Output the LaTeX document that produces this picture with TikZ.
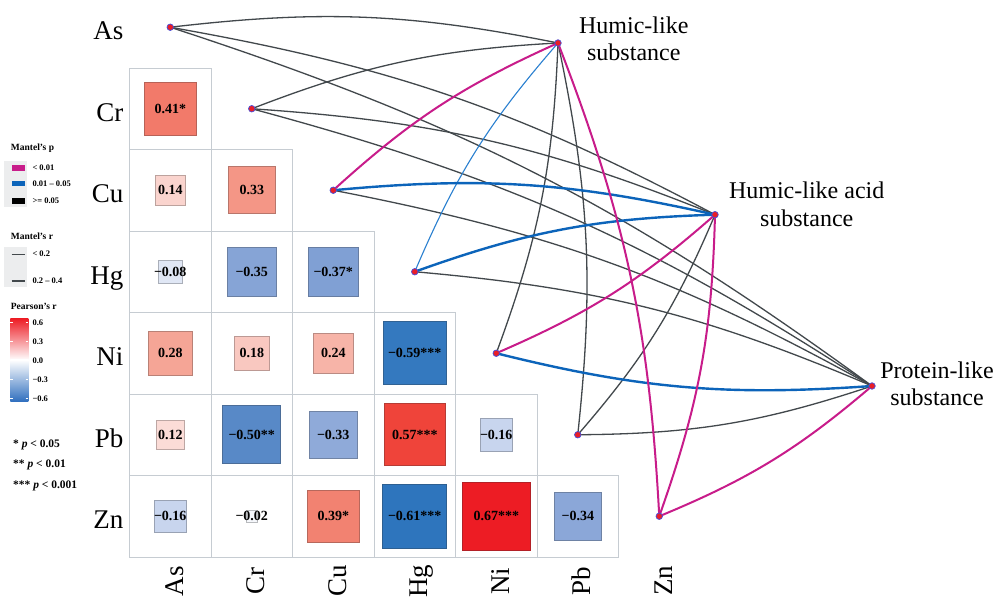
\documentclass[tikz,border=0pt]{standalone}
\usepackage{fontspec}
\setmainfont{Liberation Serif}
\definecolor{gridgray}{RGB}{198,204,210}
\definecolor{edgegray}{RGB}{66,72,76}
\definecolor{mag}{RGB}{200,28,138}
\definecolor{bluek}{RGB}{12,100,186}
\definecolor{bluet}{RGB}{42,128,208}
\definecolor{dotred}{RGB}{232,30,40}
\definecolor{dotblue}{RGB}{70,80,220}
\definecolor{legbg}{RGB}{236,237,238}
\definecolor{rtop}{RGB}{237,28,36}
\definecolor{bbot}{RGB}{46,110,190}
% cell colours
\definecolor{c67}{RGB}{237,28,36}
\definecolor{c57}{RGB}{239,68,58}
\definecolor{c41}{RGB}{242,122,106}
\definecolor{c39}{RGB}{242,130,113}
\definecolor{c33}{RGB}{244,150,134}
\definecolor{c28}{RGB}{245,165,150}
\definecolor{c24}{RGB}{247,180,168}
\definecolor{c18}{RGB}{249,200,192}
\definecolor{c14}{RGB}{250,212,206}
\definecolor{c12}{RGB}{251,220,215}
\definecolor{n61}{RGB}{46,117,189}
\definecolor{n59}{RGB}{52,121,191}
\definecolor{n50}{RGB}{88,137,199}
\definecolor{n37}{RGB}{128,160,212}
\definecolor{n35}{RGB}{134,164,214}
\definecolor{n34}{RGB}{139,167,216}
\definecolor{n33}{RGB}{143,170,217}
\definecolor{n16}{RGB}{200,213,238}
\definecolor{n08}{RGB}{224,231,245}
\definecolor{n02}{RGB}{246,248,252}
\begin{document}
\begin{tikzpicture}[x=1pt,y=1pt,
  dot/.style={circle, fill=dotred, draw=dotblue, line width=0.7pt, inner sep=0pt, minimum size=6.5pt},
  cellbox/.style={draw=gridgray, line width=0.8pt},
  num/.style={font=\fontsize{14}{14}\selectfont\bfseries, inner sep=0pt},
  ax/.style={font=\fontsize{27}{27}\selectfont, inner sep=0pt},
  lab/.style={font=\fontsize{24}{24}\selectfont, inner sep=0pt, anchor=base},
  grayedge/.style={draw=edgegray, line width=1.3pt},
  magedge/.style={draw=mag, line width=2pt},
  blueedge/.style={draw=bluek, line width=2.4pt},
  bluethin/.style={draw=bluet, line width=1.1pt},
  lg/.style={font=\fontsize{8.5}{8.5}\selectfont\bfseries, inner sep=0pt, anchor=west},
  lgt/.style={font=\fontsize{9.5}{9.5}\selectfont\bfseries, inner sep=0pt, anchor=base west},
  sig/.style={font=\fontsize{11.5}{11.5}\selectfont\bfseries, inner sep=0pt, anchor=base west},
]
\fill[white] (0,0) rectangle (1000,599);
\useasboundingbox (0,0) rectangle (1000,599);

% grid cells
\foreach \r in {1,...,6}{
  \pgfmathtruncatemacro\cm{\r-1}
  \foreach \c in {0,...,\cm}{
    \draw[cellbox] ({129.5+81.5*\c},{531-81.5*(\r-1)}) rectangle ++(81.5,-81.5);
  }
}

% correlation squares
\foreach \r/\c/\v/\tx/\cl in {
  1/0/0.41/{0.41*}/c41,
  2/0/0.14/{0.14}/c14, 2/1/0.33/{0.33}/c33,
  3/0/-0.08/{−0.08}/n08, 3/1/-0.35/{−0.35}/n35, 3/2/-0.37/{−0.37*}/n37,
  4/0/0.28/{0.28}/c28, 4/1/0.18/{0.18}/c18, 4/2/0.24/{0.24}/c24, 4/3/-0.59/{−0.59***}/n59,
  5/0/0.12/{0.12}/c12, 5/1/-0.50/{−0.50**}/n50, 5/2/-0.33/{−0.33}/n33, 5/3/0.57/{0.57***}/c57, 5/4/-0.16/{−0.16}/n16,
  6/0/-0.16/{−0.16}/n16, 6/1/-0.02/{−0.02}/n02, 6/2/0.39/{0.39*}/c39, 6/3/-0.61/{−0.61***}/n61, 6/4/0.67/{0.67***}/c67, 6/5/-0.34/{−0.34}/n34}{
  \pgfmathsetmacro\s{82*sqrt(abs(\v))}
  \node[draw=\cl!78!black!90!gray, fill=\cl, line width=0.6pt, minimum size=\s pt, inner sep=0pt] (sq\r\c) at ({170.25+81.5*\c},{571.75-81.5*\r}) {};
  \node[num] (tx\r\c) at (sq\r\c) {\tx};
}

% row labels
\foreach \n/\i in {As/0,Cr/1,Cu/2,Hg/3,Ni/4,Pb/5,Zn/6}{
  \node[ax, anchor=base east] (row\n) at (123.5,{559.25-81.5*\i}) {\n};
  \node[ax, rotate=90, anchor=base] (col\n) at ({183.25+81.5*\i},18) {\n};
}

% point coordinates
\foreach \n/\i in {As/0,Cr/1,Cu/2,Hg/3,Ni/4,Pb/5,Zn/6}{
  \coordinate (p\n) at ({170.25+81.5*\i},{571.75-81.5*\i});
}
\coordinate (pH1) at (558,556);
\coordinate (pH2) at (715,384.3);
\coordinate (pP) at (872,213);

% links
\draw[grayedge] (pAs) to[bend left=9] (pH1);
\draw[grayedge] (pAs) to[bend left=9] (pH2);
\draw[grayedge] (pAs) to[bend left=9] (pP);
\draw[grayedge] (pCr) to[bend left=9] (pH1);
\draw[grayedge] (pCr) to[bend left=9] (pH2);
\draw[grayedge] (pCr) to[bend left=9] (pP);
\draw[grayedge] (pCu) to[bend left=9] (pP);
\draw[grayedge] (pHg) to[bend left=9] (pP);
\draw[grayedge] (pNi) to[bend right=9] (pH1);
\draw[grayedge] (pPb) to[bend right=9] (pH1);
\draw[grayedge] (pPb) to[bend right=9] (pH2);
\draw[grayedge] (pPb) to[bend right=9] (pP);
\draw[bluethin] (pHg) to[bend left=9] (pH1);
\draw[blueedge] (pCu) to[bend left=9] (pH2);
\draw[blueedge] (pHg) to[bend left=9] (pH2);
\draw[blueedge] (pNi) to[bend right=9] (pP);
\draw[magedge] (pCu) to[bend left=9] (pH1);
\draw[magedge] (pNi) to[bend right=9] (pH2);
\draw[magedge] (pZn) to[bend right=9] (pH1);
\draw[magedge] (pZn) to[bend right=9] (pH2);
\draw[magedge] (pZn) to[bend right=9] (pP);

% dots
\foreach \n in {As,Cr,Cu,Hg,Ni,Pb,Zn,H1,H2,P}{
  \node[dot] (\n) at (p\n) {};
}

% target labels
\node[lab] (H1a) at (633.8,565.7) {Humic-like};
\node[lab] (H1b) at (633.8,538) {substance};
\node[lab] (H2a) at (806.7,400.7) {Humic-like acid};
\node[lab] (H2b) at (806.7,372.3) {substance};
\node[lab] (Pa) at (937,220.7) {Protein-like};
\node[lab] (Pb2) at (937,193) {substance};

% legend: Mantel's p
\node[lgt] (lgp) at (10.7,448.3) {Mantel's p};
\fill[legbg] (3.5,391.7) rectangle (27,438.3);
\fill[mag] (11.7,428.4) rectangle (25,434);
\fill[bluek] (11.7,412.5) rectangle (25,418.1);
\fill[black] (11.7,395) rectangle (25,400.6);
\node[lg] (lp1) at (32.3,431.2) {< 0.01};
\node[lg] (lp2) at (32.3,415.3) {0.01 – 0.05};
\node[lg] (lp3) at (32.3,397.8) {>= 0.05};

% legend: Mantel's r
\node[lgt] (lgr) at (10.7,359) {Mantel's r};
\fill[legbg] (3.5,312.3) rectangle (27,352.3);
\draw[edgegray, line width=0.9pt] (11.7,345) -- (25,345);
\draw[edgegray, line width=2pt] (11.7,318.3) -- (25,318.3);
\node[lg] (lr1) at (32.3,345) {< 0.2};
\node[lg] (lr2) at (32.3,318.3) {0.2 – 0.4};

% legend: Pearson's r
\node[lgt] (lgs) at (10.7,289.5) {Pearson's r};
\shade[top color=rtop, bottom color=white] (10.3,280.7) rectangle (28.3,239);
\shade[top color=white, bottom color=bbot] (10.3,239) rectangle (28.3,197.3);
\foreach \yy in {276.3,257.3,238.3,219.7,200.3}{
  \draw[white, line width=0.6pt] (10.3,\yy) -- (13,\yy);
  \draw[white, line width=0.6pt] (25.6,\yy) -- (28.3,\yy);
}
\node[lg] (cb1) at (32.3,276.3) {0.6};
\node[lg] (cb2) at (32.3,257.3) {0.3};
\node[lg] (cb3) at (32.3,238.3) {0.0};
\node[lg] (cb4) at (32.3,219.7) {−0.3};
\node[lg] (cb5) at (32.3,200.3) {−0.6};

% significance
\node[sig] (s1) at (13,151.7) {* \textit{p} < 0.05};
\node[sig] (s2) at (13,131.7) {** \textit{p} < 0.01};
\node[sig] (s3) at (13,110) {*** \textit{p} < 0.001};
\end{tikzpicture}
\end{document}
